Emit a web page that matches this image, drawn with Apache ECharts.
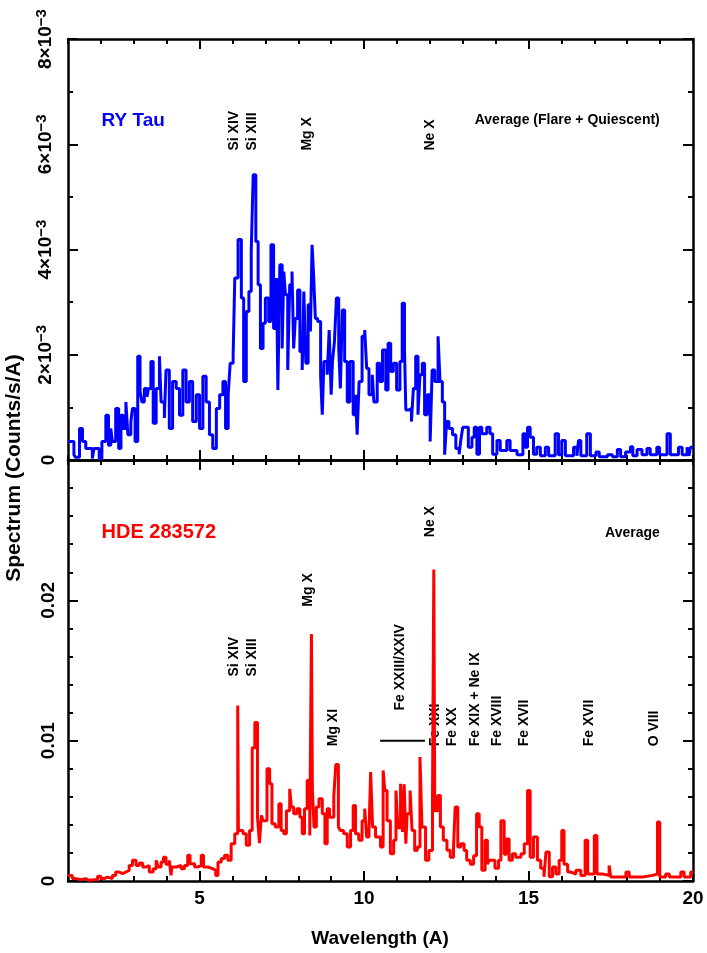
<!DOCTYPE html>
<html lang="en">
<head>
<meta charset="UTF-8">
<title>RY Tau / HDE 283572</title>
<script src="https://cdn.jsdelivr.net/npm/echarts@6/dist/echarts.min.js"></script>
<style>
    html, body { margin: 0; padding: 0; background: #fff; }
    #chart { width: 707px; height: 953px; }
</style>
</head>
<body>
<div id="chart"></div>
<script>
// flux in units of 1e-3 counts/s/A, each pair = [bin start wavelength (A), flux]
const ryTau = [
    [1.00, 0.35], [1.18, 0.10], [1.23, 0.05], [1.35, 0.60], [1.44, 0.35], [1.54, 0.22], [1.64, 0.22], [1.74, 0.03],
    [1.79, 0.22], [1.95, 0.03], [2.03, 0.35], [2.15, 0.85], [2.23, 0.28], [2.30, 0.60], [2.35, 0.35], [2.45, 0.98],
    [2.54, 0.22], [2.61, 0.85], [2.68, 0.60], [2.76, 1.10], [2.82, 0.48], [2.91, 0.72], [2.96, 0.98], [3.04, 0.35],
    [3.12, 1.97], [3.19, 1.30], [3.25, 1.10], [3.32, 1.36], [3.40, 1.20], [3.45, 1.36], [3.52, 1.87], [3.59, 0.70],
    [3.68, 1.36], [3.78, 1.97], [3.83, 1.10], [3.93, 0.80], [3.98, 1.71], [4.08, 0.60], [4.18, 1.49], [4.29, 1.36],
    [4.39, 0.85], [4.49, 1.71], [4.59, 1.10], [4.69, 1.49], [4.79, 0.73], [4.90, 1.24], [5.00, 0.60], [5.10, 1.59],
    [5.20, 1.10], [5.30, 0.48], [5.40, 0.22], [5.51, 0.98], [5.61, 1.24], [5.71, 1.49], [5.79, 0.60], [5.87, 1.24],
    [5.93, 1.84], [6.02, 1.97], [6.07, 3.46], [6.17, 4.19], [6.27, 3.08], [6.34, 1.49], [6.42, 2.82], [6.50, 3.20],
    [6.57, 3.96], [6.63, 5.42], [6.71, 4.15], [6.78, 3.33], [6.85, 2.12], [6.93, 2.60], [7.00, 3.08], [7.10, 2.63],
    [7.17, 4.09], [7.25, 2.50], [7.34, 3.46], [7.38, 1.33], [7.44, 3.71], [7.51, 2.12], [7.56, 3.58], [7.61, 3.14],
    [7.68, 1.71], [7.74, 3.33], [7.81, 3.58], [7.86, 2.12], [7.91, 2.69], [7.98, 3.23], [8.05, 2.06], [8.12, 1.71],
    [8.17, 3.20], [8.23, 1.84], [8.30, 2.95], [8.37, 2.44], [8.42, 4.09], [8.47, 3.46], [8.52, 2.69], [8.59, 2.63],
    [8.68, 1.59], [8.73, 0.86], [8.78, 1.87], [8.88, 1.62], [8.94, 2.47], [9.00, 1.24], [9.04, 1.87], [9.10, 2.25],
    [9.16, 3.08], [9.23, 2.12], [9.28, 1.36], [9.34, 2.85], [9.41, 1.87], [9.49, 1.10], [9.57, 1.87], [9.67, 0.86],
    [9.74, 1.24], [9.79, 0.48], [9.85, 1.49], [9.94, 2.35], [10.02, 2.47], [10.08, 1.74], [10.15, 1.24], [10.25, 1.62],
    [10.30, 1.10], [10.40, 1.84], [10.48, 1.49], [10.56, 2.09], [10.66, 1.33], [10.73, 2.22], [10.81, 1.68], [10.89, 1.84],
    [10.99, 1.33], [11.09, 1.87], [11.16, 2.98], [11.23, 2.09], [11.27, 0.95], [11.36, 0.98], [11.44, 0.73], [11.50, 1.36],
    [11.57, 1.97], [11.64, 0.86], [11.70, 1.62], [11.77, 1.84], [11.84, 0.86], [11.92, 1.24], [12.01, 0.35], [12.07, 1.71],
    [12.15, 1.49], [12.25, 2.35], [12.31, 1.49], [12.38, 1.10], [12.45, 0.10], [12.51, 0.73], [12.58, 0.60], [12.69, 0.48],
    [12.79, 0.22], [12.89, 0.11], [12.94, 0.37], [13.00, 0.62], [13.17, 0.24], [13.28, 0.43], [13.35, 0.62], [13.43, 0.11],
    [13.51, 0.62], [13.58, 0.50], [13.73, 0.62], [13.83, 0.50], [13.91, 0.11], [14.04, 0.37], [14.14, 0.18], [14.34, 0.37],
    [14.44, 0.18], [14.65, 0.10], [14.83, 0.50], [14.90, 0.24], [14.97, 0.62], [15.05, 0.43], [15.15, 0.11], [15.25, 0.24],
    [15.36, 0.08], [15.51, 0.24], [15.61, 0.08], [15.81, 0.50], [15.91, 0.10], [16.01, 0.37], [16.12, 0.08], [16.37, 0.24],
    [16.47, 0.08], [16.52, 0.37], [16.59, 0.08], [16.77, 0.50], [16.88, 0.08], [17.05, 0.15], [17.15, 0.06], [17.40, 0.10],
    [17.55, 0.06], [17.70, 0.20], [17.80, 0.06], [17.95, 0.15], [18.10, 0.25], [18.17, 0.08], [18.30, 0.20], [18.45, 0.10],
    [18.60, 0.22], [18.70, 0.10], [18.90, 0.24], [18.98, 0.10], [19.21, 0.50], [19.31, 0.10], [19.56, 0.24], [19.67, 0.10],
    [19.82, 0.24], [19.88, 0.08], [19.92, 0.24], [20.00, 0.24]
];

const hde283572 = [
    [1.00, 0.40], [1.13, 0.17], [1.23, 0.10], [1.39, 0.17], [1.54, 0.05], [1.64, 0.10], [1.90, 0.33], [2.00, 0.17],
    [2.10, 0.28], [2.20, 0.17], [2.35, 0.40], [2.45, 0.64], [2.56, 0.52], [2.66, 0.64], [2.76, 0.76], [2.86, 1.10],
    [2.96, 1.47], [3.07, 1.10], [3.17, 1.28], [3.27, 1.00], [3.37, 1.10], [3.47, 0.64], [3.59, 0.88], [3.68, 1.47],
    [3.74, 1.00], [3.83, 1.35], [3.90, 1.70], [3.98, 1.20], [4.08, 1.47], [4.13, 0.40], [4.16, 1.00], [4.29, 1.10],
    [4.44, 0.88], [4.54, 1.10], [4.64, 1.83], [4.71, 1.23], [4.85, 1.00], [4.95, 1.10], [5.05, 1.83], [5.12, 1.00],
    [5.25, 0.88], [5.40, 0.76], [5.49, 0.40], [5.56, 1.35], [5.66, 1.60], [5.76, 1.83], [5.86, 1.47], [5.96, 2.66],
    [6.07, 3.37], [6.16, 12.50], [6.18, 3.60], [6.32, 3.37], [6.42, 2.54], [6.52, 3.60], [6.60, 9.50], [6.68, 11.30],
    [6.76, 4.55], [6.82, 2.70], [6.88, 4.67], [6.93, 4.30], [7.05, 8.00], [7.13, 6.93], [7.20, 4.08], [7.30, 3.84],
    [7.41, 5.50], [7.48, 3.60], [7.56, 3.37], [7.64, 5.00], [7.74, 6.57], [7.79, 5.27], [7.86, 4.80], [7.96, 5.15],
    [8.05, 4.55], [8.12, 3.37], [8.19, 5.15], [8.27, 7.17], [8.35, 3.25], [8.40, 17.60], [8.43, 6.45], [8.48, 3.84],
    [8.55, 5.27], [8.63, 5.86], [8.73, 4.80], [8.81, 2.66], [8.88, 5.15], [8.95, 4.55], [9.08, 6.00], [9.14, 8.30],
    [9.22, 3.84], [9.28, 3.60], [9.38, 3.37], [9.49, 2.42], [9.59, 3.60], [9.67, 5.38], [9.74, 3.37], [9.84, 2.90],
    [9.94, 4.30], [10.02, 5.15], [10.08, 3.13], [10.15, 3.50], [10.20, 7.76], [10.26, 3.84], [10.35, 3.13], [10.50, 2.42],
    [10.58, 7.88], [10.63, 6.45], [10.70, 4.30], [10.80, 1.95], [10.90, 2.90], [10.97, 6.45], [11.03, 3.80], [11.11, 6.93],
    [11.17, 3.50], [11.22, 6.90], [11.27, 2.66], [11.31, 4.80], [11.40, 6.45], [11.46, 3.60], [11.54, 2.18], [11.62, 2.42],
    [11.70, 8.83], [11.76, 3.84], [11.87, 1.47], [11.97, 2.18], [12.08, 5.38], [12.12, 22.20], [12.15, 5.00], [12.24, 6.10],
    [12.32, 3.84], [12.41, 2.90], [12.52, 2.20], [12.62, 1.70], [12.72, 2.40], [12.77, 5.27], [12.85, 2.42], [12.94, 2.66],
    [13.04, 2.18], [13.12, 1.47], [13.23, 1.20], [13.33, 1.80], [13.42, 4.80], [13.50, 3.84], [13.58, 0.76], [13.68, 2.90],
    [13.75, 1.20], [13.80, 1.47], [13.98, 0.90], [14.09, 1.47], [14.16, 4.30], [14.26, 1.90], [14.33, 3.00], [14.41, 1.47],
    [14.51, 1.95], [14.61, 1.70], [14.77, 1.95], [14.87, 2.66], [14.97, 6.45], [15.05, 1.70], [15.15, 3.13], [15.27, 1.47],
    [15.37, 0.90], [15.47, 0.30], [15.53, 2.06], [15.63, 0.30], [15.73, 1.00], [15.83, 0.50], [15.93, 1.47], [16.01, 3.60],
    [16.08, 1.20], [16.19, 0.64], [16.29, 0.50], [16.44, 0.76], [16.59, 0.40], [16.72, 2.90], [16.80, 0.50], [17.00, 3.25],
    [17.08, 0.50], [17.25, 0.40], [17.45, 1.10], [17.50, 0.28], [17.96, 0.64], [18.06, 0.28], [18.47, 0.40], [18.77, 0.50],
    [18.92, 4.20], [18.99, 0.28], [19.17, 0.50], [19.28, 0.28], [19.63, 0.64], [19.73, 0.28], [19.93, 0.64], [20.00, 0.64]
];

// Fe XXIII/XXIV blend range marker
const feBlendSpan = [[10.49, 10], [11.85, 10]];

const xTickLabels = [5, 10, 15, 20];
const xMajorTicks = [5, 10, 15];

// [text, wavelength, flux] : flux is where the rotated label starts
const topLineLabels = [
    ['Si XIV', 6.05, 5.88], ['Si XIII', 6.60, 5.88], ['Mg X', 8.27, 5.88], ['Ne X', 12.01, 5.88]
];
const bottomLineLabels = [
    ['Ne X', 12.01, 24.5], ['Mg X', 8.30, 19.55], ['Si XIV', 6.05, 14.57], ['Si XIII', 6.60, 14.57],
    ['Mg XI', 9.06, 9.6], ['Fe XXIII/XXIV', 11.10, 12.15], ['Fe XXI', 12.16, 9.6], ['Fe XX', 12.67, 9.6],
    ['Fe XIX + Ne IX', 13.37, 9.6], ['Fe XVIII', 14.04, 9.6], ['Fe XVII', 14.86, 9.6], ['Fe XVII', 16.83, 9.6],
    ['O VIII', 18.81, 9.6]
];

const FONT = 'Liberation Sans';
const lineW = { color: '#000', width: 2 };

function xAxisOf(grid, position, major, labels) {
    return {
        type: 'value', gridIndex: grid, position: position, min: 1, max: 20, interval: 1,
        axisLine: { show: !major, onZero: false, lineStyle: { color: '#000', width: 2.5 } },
        axisTick: major
            ? { inside: true, length: 10, customValues: xMajorTicks, lineStyle: lineW }
            : { inside: true, length: 5, lineStyle: lineW },
        axisLabel: labels
            ? { show: true, customValues: xTickLabels, margin: 8, fontSize: 19, fontWeight: 'bold', fontFamily: FONT, color: '#000' }
            : { show: false },
        splitLine: { show: false }
    };
}

function yAxisOf(grid, position, max, interval, minorSplit, formatter) {
    return {
        type: 'value', gridIndex: grid, position: position, min: 0, max: max, interval: interval,
        axisLine: { show: true, onZero: false, lineStyle: { color: '#000', width: 2.5 } },
        axisTick: { inside: true, length: 10, lineStyle: lineW },
        minorTick: { show: true, splitNumber: minorSplit, length: 5, lineStyle: lineW },
        axisLabel: formatter ? {
            show: true, rotate: 90, margin: 10, fontSize: 19, fontWeight: 'bold', fontFamily: FONT, color: '#000',
            formatter: formatter,
            rich: {
                n: { fontSize: 19, fontWeight: 'bold', fontFamily: FONT, color: '#000', lineHeight: 24 },
                s: { fontSize: 15, fontWeight: 'bold', fontFamily: FONT, color: '#000', lineHeight: 15, verticalAlign: 'top' }
            }
        } : { show: false },
        splitLine: { show: false }
    };
}

const chart = echarts.init(document.getElementById('chart'));
chart.setOption({
    animation: false,
    backgroundColor: '#fff',
    grid: [
        { left: 68, right: 14, top: 39, height: 421 },
        { left: 68, right: 14, top: 460, height: 421 }
    ],
    xAxis: [
        xAxisOf(0, 'bottom', false, false), xAxisOf(0, 'bottom', true, false),
        xAxisOf(0, 'top', false, false), xAxisOf(0, 'top', true, false),
        xAxisOf(1, 'bottom', false, true), xAxisOf(1, 'bottom', true, false),
        xAxisOf(1, 'top', false, false), xAxisOf(1, 'top', true, false)
    ],
    yAxis: [
        yAxisOf(0, 'left', 8, 2, 2, function (v) { return v === 0 ? '0' : '{n|' + v + '×10}{s|−3}'; }),
        yAxisOf(0, 'right', 8, 2, 2, null),
        yAxisOf(1, 'left', 30, 10, 5, function (v) { return v === 0 ? '0' : (v >= 30 ? '' : (v / 1000).toFixed(2)); }),
        yAxisOf(1, 'right', 30, 10, 5, null)
    ],
    series: [
        {
            type: 'line', xAxisIndex: 0, yAxisIndex: 0, data: ryTau, step: 'end', symbol: 'none', silent: true,
            lineStyle: { color: '#0000ff', width: 3 }, itemStyle: { color: '#0000ff' }
        },
        {
            type: 'line', xAxisIndex: 4, yAxisIndex: 2, data: hde283572, step: 'end', symbol: 'none', silent: true,
            lineStyle: { color: '#ff0000', width: 3 }, itemStyle: { color: '#ff0000' }
        },
        {
            type: 'line', xAxisIndex: 4, yAxisIndex: 2, data: feBlendSpan, symbol: 'none', silent: true,
            lineStyle: { color: '#000', width: 2 }
        }
    ]
});

// annotations, anchored through the axes
function txt(pt, text, opt) {
    return Object.assign({
        type: 'text', x: pt[0], y: pt[1], silent: true,
        style: Object.assign({
            text: text, fontFamily: FONT, fontWeight: 'bold', fontSize: 14, fill: '#000',
            align: 'left', verticalAlign: 'middle'
        }, opt.style || {})
    }, opt.el || {});
}
const topPx = v => chart.convertToPixel({ seriesIndex: 0 }, v);
const botPx = v => chart.convertToPixel({ seriesIndex: 1 }, v);
const rot = { el: { rotation: Math.PI / 2 } };

const graphics = [];
topLineLabels.forEach(l => graphics.push(txt(topPx([l[1], l[2]]), l[0], rot)));
bottomLineLabels.forEach(l => graphics.push(txt(botPx([l[1], l[2]]), l[0], rot)));
graphics.push(txt(topPx([2.02, 6.45]), 'RY Tau', { style: { fontSize: 19, fill: '#0000ff' } }));
graphics.push(txt(topPx([18.99, 6.45]), 'Average (Flare + Quiescent)', { style: { align: 'right' } }));
graphics.push(txt(botPx([2.02, 24.8]), 'HDE 283572', { style: { fontSize: 20, fill: '#ff0000' } }));
graphics.push(txt(botPx([18.99, 24.8]), 'Average', { style: { align: 'right' } }));
graphics.push(txt([380, 939], 'Wavelength (A)', { style: { fontSize: 19, align: 'center' } }));
graphics.push(txt([14, 468], 'Spectrum (Counts/s/A)', { style: { fontSize: 21, align: 'center' }, el: { rotation: Math.PI / 2 } }));

chart.setOption({ graphic: graphics });
</script>
</body>
</html>
